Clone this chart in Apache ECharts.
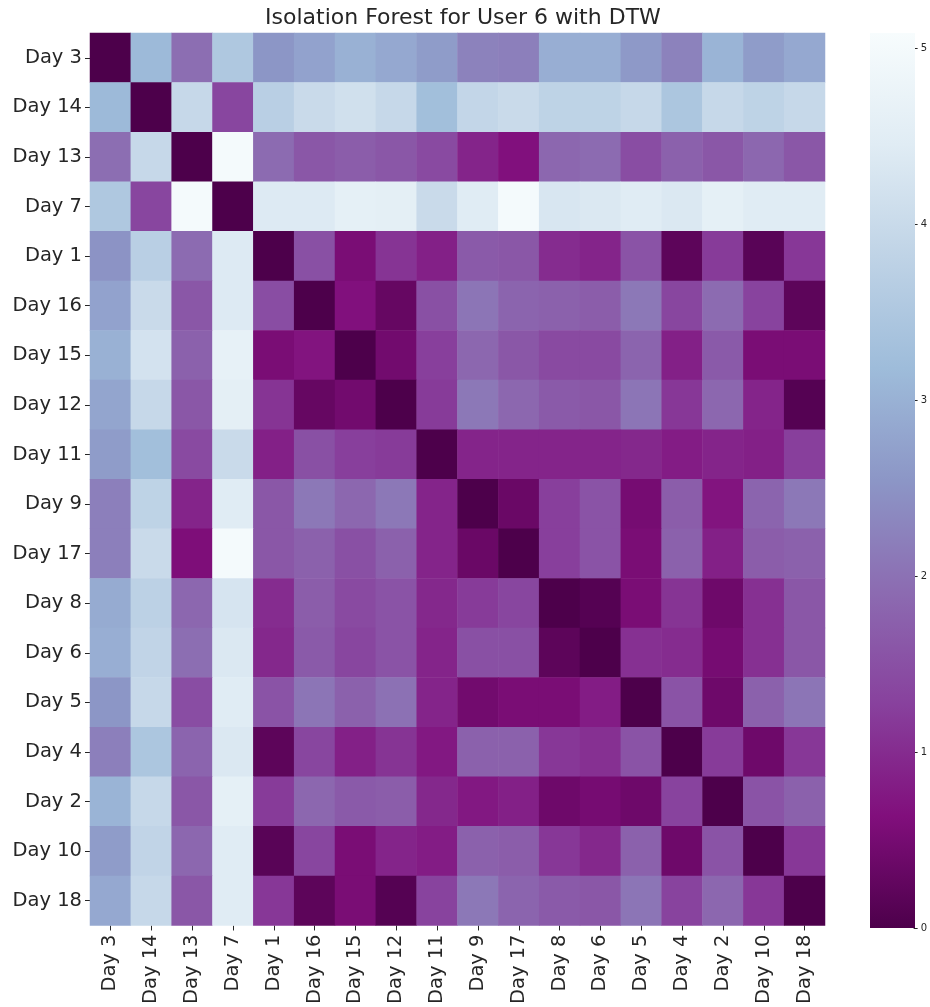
<!DOCTYPE html>
<html>
<head>
<meta charset="utf-8">
<title>Isolation Forest for User 6 with DTW</title>
<script src="https://cdn.jsdelivr.net/npm/echarts@6/dist/echarts.min.js"></script>
<style>
  html, body { margin: 0; padding: 0; background: #ffffff; }
  #chart { width: 930px; height: 1007px; }
</style>
</head>
<body>
<div id="chart"></div>
<script>
// Day order used on both axes (clustered order)
const days = ['Day 3', 'Day 14', 'Day 13', 'Day 7', 'Day 1', 'Day 16', 'Day 15', 'Day 12', 'Day 11',
              'Day 9', 'Day 17', 'Day 8', 'Day 6', 'Day 5', 'Day 4', 'Day 2', 'Day 10', 'Day 18'];

// DTW distance, one array per row (same column order as `days`)
const rowDay3  = [0.00, 3.15, 1.95, 3.50, 2.55, 2.75, 3.00, 2.85, 2.65, 2.25, 2.20, 2.95, 2.95, 2.60, 2.25, 3.05, 2.65, 2.85];
const rowDay14 = [3.15, 0.00, 3.95, 1.35, 3.70, 4.00, 4.15, 3.95, 3.25, 3.90, 4.00, 3.80, 3.80, 3.95, 3.45, 3.95, 3.80, 3.95];
const rowDay13 = [1.95, 3.95, 0.00, 5.00, 1.90, 1.60, 1.70, 1.60, 1.40, 0.90, 0.65, 1.85, 1.90, 1.45, 1.75, 1.60, 1.85, 1.60];
const rowDay7  = [3.50, 1.35, 5.00, 0.00, 4.40, 4.40, 4.60, 4.55, 4.00, 4.45, 5.00, 4.30, 4.35, 4.45, 4.35, 4.60, 4.45, 4.45];
const rowDay1  = [2.50, 3.70, 1.90, 4.40, 0.00, 1.50, 0.55, 1.10, 0.85, 1.65, 1.60, 1.00, 0.90, 1.55, 0.20, 1.20, 0.15, 1.15];
const rowDay16 = [2.75, 4.00, 1.60, 4.40, 1.45, 0.00, 0.65, 0.30, 1.50, 2.05, 1.80, 1.75, 1.70, 2.10, 1.35, 1.90, 1.30, 0.20];
const rowDay15 = [3.00, 4.20, 1.75, 4.65, 0.55, 0.70, 0.00, 0.45, 1.25, 1.85, 1.60, 1.40, 1.40, 1.80, 0.85, 1.65, 0.55, 0.55];
const rowDay12 = [2.80, 3.95, 1.60, 4.55, 1.10, 0.30, 0.45, 0.00, 1.20, 2.10, 1.85, 1.65, 1.60, 2.05, 1.15, 1.85, 0.90, 0.10];
const rowDay11 = [2.65, 3.25, 1.40, 4.00, 0.85, 1.50, 1.25, 1.20, 0.00, 0.90, 0.90, 0.90, 0.90, 0.95, 0.80, 0.90, 0.85, 1.25];
const rowDay9  = [2.20, 3.80, 0.90, 4.45, 1.60, 2.10, 1.85, 2.10, 0.90, 0.00, 0.35, 1.25, 1.55, 0.50, 1.70, 0.70, 1.80, 2.10];
const rowDay17 = [2.20, 4.00, 0.60, 5.00, 1.60, 1.75, 1.50, 1.75, 0.90, 0.35, 0.00, 1.25, 1.55, 0.55, 1.75, 0.85, 1.70, 1.75];
const rowDay8  = [2.90, 3.75, 1.85, 4.25, 1.00, 1.70, 1.40, 1.55, 0.95, 1.20, 1.35, 0.00, 0.10, 0.55, 1.10, 0.40, 1.05, 1.60];
const rowDay6  = [2.95, 3.85, 1.95, 4.35, 0.95, 1.65, 1.35, 1.55, 0.90, 1.50, 1.50, 0.20, 0.00, 1.05, 1.00, 0.50, 1.05, 1.60];
const rowDay5  = [2.55, 3.95, 1.45, 4.45, 1.55, 2.05, 1.75, 2.00, 0.90, 0.45, 0.55, 0.55, 0.80, 0.00, 1.55, 0.40, 1.75, 2.05];
const rowDay4  = [2.20, 3.45, 1.80, 4.35, 0.20, 1.35, 0.85, 1.10, 0.75, 1.75, 1.75, 1.15, 1.05, 1.55, 0.00, 1.20, 0.40, 1.15];
const rowDay2  = [3.05, 3.95, 1.60, 4.60, 1.20, 1.85, 1.65, 1.70, 0.95, 0.75, 0.85, 0.40, 0.50, 0.40, 1.30, 0.00, 1.55, 1.75];
const rowDay10 = [2.65, 3.85, 1.85, 4.45, 0.15, 1.35, 0.55, 0.90, 0.80, 1.75, 1.70, 1.15, 0.95, 1.75, 0.40, 1.55, 0.00, 1.15];
const rowDay18 = [2.85, 3.95, 1.60, 4.45, 1.15, 0.20, 0.55, 0.10, 1.30, 2.10, 1.80, 1.65, 1.60, 2.05, 1.30, 1.85, 1.15, 0.00];

const rows = [rowDay3, rowDay14, rowDay13, rowDay7, rowDay1, rowDay16, rowDay15, rowDay12, rowDay11,
              rowDay9, rowDay17, rowDay8, rowDay6, rowDay5, rowDay4, rowDay2, rowDay10, rowDay18];

// Colour-bar range and tick labels
const scaleMin = 0;
const scaleMax = 5.085;
const barTicks = [0, 1, 2, 3, 4, 5];

// Reversed BuPu palette
const buPuR = ['#4d004b', '#810f7c', '#88419d', '#8c6bb1', '#8c96c6',
               '#9ebcda', '#bfd3e6', '#e0ecf4', '#f7fcfd'];

const cells = [];
rows.forEach((row, r) => row.forEach((v, c) => cells.push([c, r, v])));

const FONT = 'DejaVu Sans';
const TXT = '#262626';

// Colour-bar geometry (shares the heatmap's vertical extent)
const bar = { left: 870, top: 33, width: 45, height: 895 };

const chart = echarts.init(document.getElementById('chart'), null, { renderer: 'canvas' });
chart.setOption({
  backgroundColor: '#ffffff',
  animation: false,
  title: {
    text: 'Isolation Forest for User 6 with DTW',
    left: 260,
    top: 2,
    textStyle: { fontFamily: FONT, fontSize: 22, fontWeight: 'normal', color: TXT }
  },
  grid: [
    { left: 90, top: 33, width: 735, height: 894, containLabel: false },
    { left: bar.left, top: bar.top, width: bar.width, height: bar.height, containLabel: false }
  ],
  xAxis: [
    {
      type: 'category', gridIndex: 0, data: days, position: 'bottom',
      axisLine: { show: false },
      axisTick: { show: true, length: 5, alignWithLabel: true, lineStyle: { color: TXT, width: 1 } },
      axisLabel: { rotate: 90, interval: 0, margin: 9, fontFamily: FONT, fontSize: 19.5, color: TXT },
      splitLine: { show: false }
    },
    { type: 'value', gridIndex: 1, show: false, min: 0, max: 1 }
  ],
  yAxis: [
    {
      type: 'category', gridIndex: 0, data: days, inverse: true,
      axisLine: { show: false },
      axisTick: { show: true, length: 5, alignWithLabel: true, lineStyle: { color: TXT, width: 1 } },
      axisLabel: { interval: 0, margin: 8, fontFamily: FONT, fontSize: 19.5, color: TXT },
      splitLine: { show: false }
    },
    {
      type: 'value', gridIndex: 1, position: 'right', min: scaleMin, max: scaleMax,
      axisLine: { show: false, onZero: false },
      axisTick: { show: true, length: 4, customValues: barTicks, lineStyle: { color: TXT, width: 1 } },
      axisLabel: { margin: 7, customValues: barTicks, fontFamily: FONT, fontSize: 10, color: TXT },
      splitLine: { show: false }
    }
  ],
  visualMap: {
    type: 'continuous',
    show: false,
    min: scaleMin,
    max: scaleMax,
    seriesIndex: 0,
    inRange: { color: buPuR }
  },
  graphic: [
    {
      type: 'rect',
      silent: true,
      z: 10,
      shape: { x: bar.left, y: bar.top, width: bar.width, height: bar.height },
      style: {
        fill: new echarts.graphic.LinearGradient(0, 1, 0, 0,
          buPuR.map((c, i) => ({ offset: i / (buPuR.length - 1), color: c })))
      }
    }
  ],
  series: [
    {
      type: 'heatmap',
      xAxisIndex: 0,
      yAxisIndex: 0,
      data: cells,
      itemStyle: { borderWidth: 0 },
      emphasis: { disabled: true }
    },
    {
      type: 'scatter',
      xAxisIndex: 1,
      yAxisIndex: 1,
      data: [],
      silent: true
    }
  ]
});
</script>
</body>
</html>
